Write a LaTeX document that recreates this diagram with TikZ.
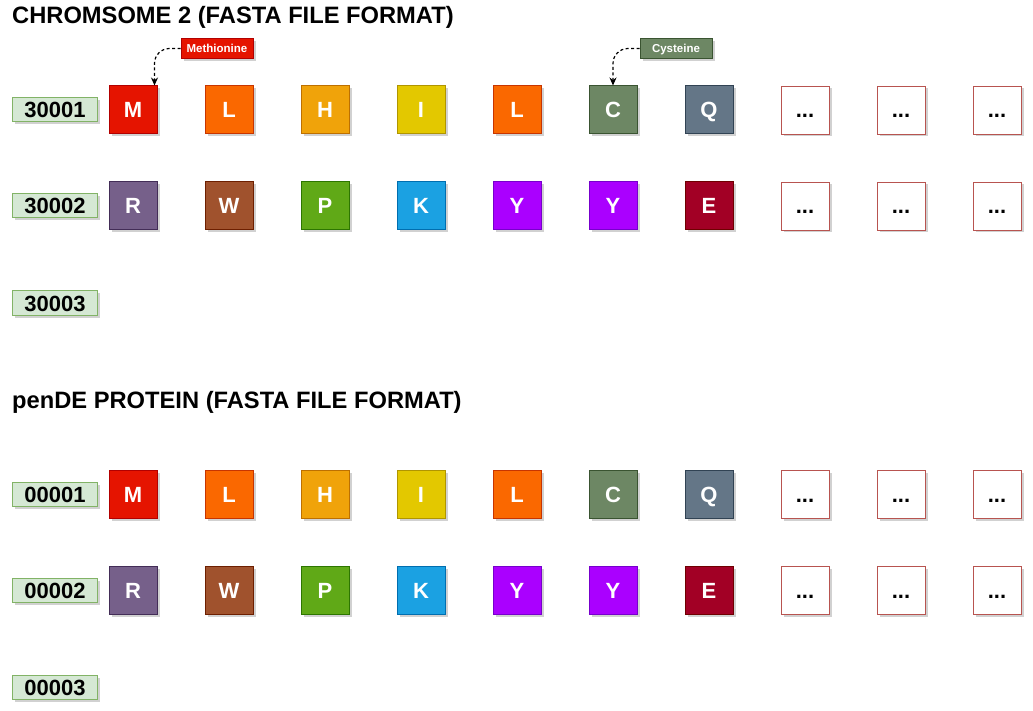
\documentclass[tikz,border=0pt]{standalone}
\usepackage{fontspec}
\setmainfont{Liberation Sans}
\usetikzlibrary{shadows,arrows.meta}

% amino-acid palette (fill / stroke)
\definecolor{redF}{HTML}{E51400}    \definecolor{redD}{HTML}{B20000}
\definecolor{orangeF}{HTML}{FA6800} \definecolor{orangeD}{HTML}{C73500}
\definecolor{amberF}{HTML}{F0A30A}  \definecolor{amberD}{HTML}{BD7000}
\definecolor{yellowF}{HTML}{E3C800} \definecolor{yellowD}{HTML}{B09500}
\definecolor{oliveF}{HTML}{6D8764}  \definecolor{oliveD}{HTML}{3A5431}
\definecolor{steelF}{HTML}{647687}  \definecolor{steelD}{HTML}{314354}
\definecolor{mauveF}{HTML}{76608A}  \definecolor{mauveD}{HTML}{432D57}
\definecolor{brownF}{HTML}{A0522D}  \definecolor{brownD}{HTML}{6D1F00}
\definecolor{greenF}{HTML}{60A917}  \definecolor{greenD}{HTML}{2D7600}
\definecolor{blueF}{HTML}{1BA1E2}   \definecolor{blueD}{HTML}{006EAF}
\definecolor{violetF}{HTML}{AA00FF} \definecolor{violetD}{HTML}{7700CC}
\definecolor{crimsonF}{HTML}{A20025}\definecolor{crimsonD}{HTML}{6F0000}
\definecolor{emptyD}{HTML}{B85450}
\definecolor{tagF}{HTML}{D5E8D4}    \definecolor{tagD}{HTML}{82B366}

\tikzset{
  boxshadow/.style={drop shadow={shadow xshift=2.5pt, shadow yshift=-2.5pt, opacity=0.18, fill=black}},
  bigtext/.style={font=\bfseries\fontsize{22}{22}\selectfont, text height=16pt, text depth=0pt},
  aa/.style={minimum size=48pt, inner sep=0pt, line width=1pt, fill=#1F, draw=#1D,
    text=white, bigtext, boxshadow},
  emptybox/.style={minimum size=48pt, inner sep=0pt, line width=0.8pt, fill=white, draw=emptyD,
    bigtext, boxshadow},
  rowtag/.style={minimum width=85pt, minimum height=24pt, inner sep=0pt, line width=1pt,
    fill=tagF, draw=tagD, bigtext, boxshadow},
  callout/.style={minimum width=72pt, minimum height=20pt, inner sep=0pt, line width=0.8pt,
    fill=#1F, draw=#1D, text=white, font=\bfseries\fontsize{11.5}{11.5}\selectfont,
    text height=8.5pt, text depth=0pt, boxshadow},
  pointer/.style={line width=1.2pt, dash pattern=on 3pt off 2.5pt, rounded corners=15pt,
    -{Stealth[length=8pt,width=7pt]}},
  titletext/.style={anchor=base west, inner sep=0pt, text height=17pt, text depth=5pt,
    font=\bfseries\fontsize{23.7}{23.7}\selectfont}
}

\newcommand{\headline}[3]{%
  \node[titletext, text=black, opacity=0.12] at (#1+2pt,#2+3.5pt) {#3};
  \node[titletext, text=black, opacity=0.12] at (#1+1pt,#2+2.5pt) {#3};
  \node[titletext] at (#1,#2) {#3};
}

\begin{document}
\begin{tikzpicture}[x=1pt, y=-1pt]
  \useasboundingbox (0,0) rectangle (1033,711);

  % section titles
  \headline{12}{23.5}{CHROMSOME 2 (FASTA FILE FORMAT)}
  \headline{12}{408}{penDE PROTEIN (FASTA FILE FORMAT)}

  % two sequence blocks: chromosome (prefix c) and protein (prefix p)
  \foreach \blk/\top/\idA/\idB/\idC in {c/110/30001/30002/30003, p/494/00001/00002/00003}{
    \node[rowtag] (\blk tag1) at (55,\top) {\idA};
    \node[rowtag] (\blk tag2) at (55,\top+96) {\idB};
    \node[rowtag] (\blk tag3) at (55,\top+193) {\idC};
    \foreach \res/\col [count=\i] in {M/red, L/orange, H/amber, I/yellow, L/orange, C/olive, Q/steel}
      \node[aa=\col] (\blk a\i) at (37+96*\i,\top) {\res};
    \foreach \res/\col [count=\i] in {R/mauve, W/brown, P/green, K/blue, Y/violet, Y/violet, E/crimson}
      \node[aa=\col] (\blk b\i) at (37+96*\i,\top+96) {\res};
    \foreach \i in {8,9,10}{
      \node[emptybox] (\blk a\i) at (37+96*\i,\top) {...};
      \node[emptybox] (\blk b\i) at (37+96*\i,\top+96) {...};
    }
  }

  % residue callouts
  \node[callout=red] (meth) at (217,48.5) {Methionine};
  \node[callout=olive] (cyst) at (676,48.5) {Cysteine};
  \draw[pointer] (meth.west) -| ([xshift=-3pt]ca1.north east);
  \draw[pointer] (cyst.west) -| (ca6.north);
\end{tikzpicture}
\end{document}
